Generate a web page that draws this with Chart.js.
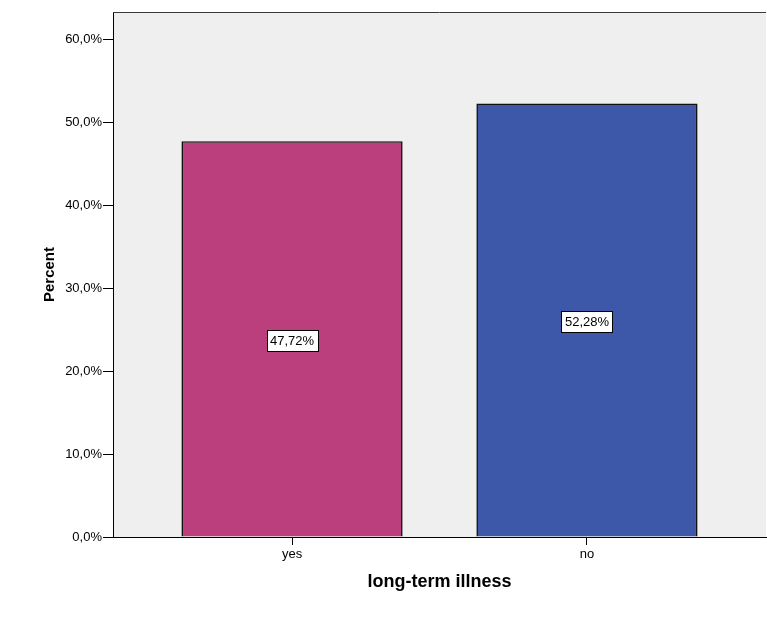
<!DOCTYPE html>
<html>
<head>
<meta charset="utf-8">
<script src="https://cdn.jsdelivr.net/npm/chart.js@4/dist/chart.umd.min.js"></script>
<style>
  html, body { margin: 0; padding: 0; background: #ffffff; }
  #wrap { width: 767px; height: 618px; }
</style>
</head>
<body>
<div id="wrap"><canvas id="c" width="767" height="618"></canvas></div>
<script>
// Share of respondents by long-term illness status
const categories = ['yes', 'no'];
const percents = [47.72, 52.28];
const barColors = ['#bb3f7c', '#3e58a9'];
const yTicks = [0, 10, 20, 30, 40, 50, 60];

const fmtComma = (v, d) => v.toFixed(d).replace('.', ',');

const FONT = '"Liberation Sans", Arial, sans-serif';

// Grey plot panel and its top border
const panelPlugin = {
  id: 'panel',
  beforeDraw(chart) {
    const { ctx, chartArea: a } = chart;
    ctx.save();
    ctx.fillStyle = '#efefef';
    ctx.fillRect(a.left, a.top, a.right - a.left, a.bottom - a.top);
    ctx.restore();
  },
  afterDraw(chart) {
    const { ctx, chartArea: a } = chart;
    ctx.save();
    ctx.strokeStyle = '#3a3a3a';
    ctx.lineWidth = 1;
    ctx.beginPath();
    ctx.moveTo(a.left, a.top + 0.5);
    ctx.lineTo(a.right, a.top + 0.5);
    ctx.stroke();
    ctx.restore();
  }
};

// Boxed value labels in the middle of each bar
const valueLabels = {
  id: 'valueLabels',
  afterDatasetsDraw(chart) {
    const { ctx } = chart;
    const yScale = chart.scales.y;
    const meta = chart.getDatasetMeta(0);
    ctx.save();
    ctx.font = '13px ' + FONT;
    ctx.textAlign = 'center';
    ctx.textBaseline = 'middle';
    meta.data.forEach((bar, i) => {
      const v = percents[i];
      const text = fmtComma(v, 2) + '%';
      const x = bar.x;
      const y = yScale.getPixelForValue(v / 2) + 1;
      const w = Math.round(ctx.measureText(text).width) + 7;
      const h = 21;
      const bx = Math.round(x - w / 2) + 0.5;
      const by = Math.round(y - h / 2) + 0.5;
      ctx.fillStyle = '#ffffff';
      ctx.fillRect(bx, by, w, h);
      ctx.strokeStyle = '#000000';
      ctx.lineWidth = 1;
      ctx.strokeRect(bx, by, w, h);
      ctx.fillStyle = '#000000';
      ctx.fillText(text, x, y + 1);
    });
    ctx.restore();
  }
};

new Chart(document.getElementById('c'), {
  type: 'bar',
  data: {
    datasets: [{
      data: categories.map((c, i) => ({ x: i, y: percents[i] })),
      backgroundColor: barColors,
      borderColor: '#111111',
      borderWidth: 1.6,
      borderSkipped: 'bottom',
      barPercentage: 0.75,
      categoryPercentage: 1
    }]
  },
  options: {
    responsive: false,
    animation: false,
    layout: { padding: { top: 12, right: 1, left: 0, bottom: 0 } },
    plugins: { legend: { display: false }, tooltip: { enabled: false } },
    scales: {
      x: {
        type: 'linear',
        offset: false,
        min: -0.607,
        max: 1.607,
        afterBuildTicks(scale) { scale.ticks = categories.map((_, i) => ({ value: i })); },
        afterFit(scale) { scale.height = 81; },
        ticks: {
          callback: (v) => categories[v] ?? '',
          font: { family: FONT, size: 13 },
          color: '#000',
          padding: 2,
          maxRotation: 0
        },
        grid: { display: true, offset: false, drawOnChartArea: false, drawTicks: true, tickLength: 8, color: '#000' },
        border: { display: true, color: '#000', width: 1 },
        title: {
          display: true,
          text: 'long-term illness',
          font: { family: FONT, size: 18, weight: 'bold' },
          color: '#000',
          padding: { top: 0, bottom: 25 }
        }
      },
      y: {
        min: 0,
        max: 63.3,
        afterBuildTicks(scale) { scale.ticks = yTicks.map(v => ({ value: v })); },
        afterFit(scale) { scale.width = 113; },
        ticks: {
          callback: (v) => fmtComma(v, 1) + '%',
          font: { family: FONT, size: 13 },
          color: '#000',
          padding: 1
        },
        grid: { display: true, drawOnChartArea: false, drawTicks: true, tickLength: 10, color: '#000' },
        border: { display: true, color: '#000', width: 1 },
        title: {
          display: true,
          text: 'Percent',
          font: { family: FONT, size: 15, weight: 'bold' },
          color: '#000',
          padding: { top: 41, bottom: 0 }
        }
      }
    }
  },
  plugins: [panelPlugin, valueLabels]
});
</script>
</body>
</html>
